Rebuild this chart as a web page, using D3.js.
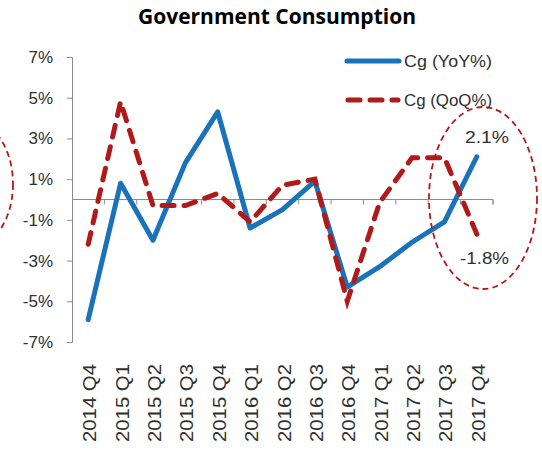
<!DOCTYPE html>
<html><head><meta charset="utf-8">
<script src="https://cdn.jsdelivr.net/npm/d3@7"></script>
<style>body{margin:0;background:#fff;} svg{display:block;}</style>
</head><body>
<script>
const categories = ["2014 Q4","2015 Q1","2015 Q2","2015 Q3","2015 Q4","2016 Q1","2016 Q2","2016 Q3","2016 Q4","2017 Q1","2017 Q2","2017 Q3","2017 Q4"];
const yoy = [-5.9, 0.8, -2.0, 1.8, 4.3, -1.4, -0.5, 0.9, -4.3, -3.3, -2.1, -1.1, 2.1];
const qoq = [-2.2, 4.8, -0.3, -0.3, 0.3, -1.1, 0.7, 1.0, -5.0, -0.15, 2.05, 2.05, -1.7];
const yTicks = [-7,-5,-3,-1,1,3,5,7];
const seriesNames = ["Cg (YoY%)", "Cg (QoQ%)"];
const annotations = ["2.1%", "-1.8%"];

const W = 542, H = 451;
const svg = d3.select("body").append("svg").attr("width", W).attr("height", H);
const x0 = 72, x1 = 493, yTop = 57, yBot = 342;
const x = d3.scaleBand().domain(categories).range([x0, x1]);
const y = d3.scaleLinear().domain([-7, 7]).range([yBot, yTop]);
const font = "'Liberation Sans', Arial, sans-serif";
const axisColor = "#8c8c8c";
const textColor = "#303030";
const blue = "#1A72BA", red = "#B01A1A";

svg.append("text").attr("x", 277).attr("y", 24).attr("text-anchor", "middle")
  .attr("font-family", "'Open Sans', sans-serif").attr("font-weight", "bold").attr("font-size", 21)
  .attr("fill", "#000").text("Government Consumption");

// y axis
const yAxis = svg.append("g").attr("transform", `translate(${x0},0)`)
  .call(d3.axisLeft(y).tickValues(yTicks).tickSize(5).tickFormat(d => d + "%"));
yAxis.select(".domain").attr("stroke", axisColor);
yAxis.selectAll(".tick line").attr("stroke", axisColor);
yAxis.selectAll(".tick text").attr("font-family", font).attr("font-size", 17).attr("fill", textColor).attr("x", -19);

// zero axis with category boundary ticks
const xAxis = svg.append("g").attr("transform", `translate(0,${y(0)})`);
xAxis.append("path").attr("d", `M${x0},0H${x1}V5`).attr("stroke", axisColor).attr("fill", "none");
const bounds = categories.map((c, i) => x(c) + x.bandwidth());
xAxis.selectAll("line.b").data(bounds).join("line").attr("class", "b")
  .attr("x1", d => d).attr("x2", d => d).attr("y1", 0).attr("y2", 5).attr("stroke", axisColor);

// x labels
svg.append("g").selectAll("text").data(categories).join("text")
  .attr("transform", d => `translate(${x(d) + x.bandwidth()/2 + 8},442) rotate(-90)`)
  .attr("font-family", font).attr("font-size", 18).attr("fill", textColor)
  .attr("textLength", 78).attr("lengthAdjust", "spacingAndGlyphs").text(d => d);

const cx = (d, i) => x(categories[i]) + x.bandwidth()/2;
const line = d3.line().x(cx).y(d => y(d));
svg.append("path").datum(yoy).attr("d", line).attr("fill", "none")
  .attr("stroke", blue).attr("stroke-width", 5).attr("stroke-linejoin", "round").attr("stroke-linecap", "round");
svg.append("path").datum(qoq).attr("d", line).attr("fill", "none")
  .attr("stroke", red).attr("stroke-width", 5).attr("stroke-dasharray", "12,10").attr("stroke-linecap", "round");

// legend
const lg = svg.append("g");
lg.append("line").attr("x1", 347).attr("x2", 399).attr("y1", 61).attr("y2", 61)
  .attr("stroke", blue).attr("stroke-width", 5).attr("stroke-linecap", "round");
lg.append("line").attr("x1", 348).attr("x2", 398).attr("y1", 100).attr("y2", 100)
  .attr("stroke", red).attr("stroke-width", 5).attr("stroke-dasharray", "12,10").attr("stroke-linecap", "round");
lg.selectAll("text").data(seriesNames).join("text")
  .attr("x", 404).attr("y", (d, i) => 67 + i * 39)
  .attr("font-family", font).attr("font-size", 17).attr("fill", textColor)
  .attr("textLength", 88).attr("lengthAdjust", "spacingAndGlyphs").text(d => d);

// annotations
svg.append("text").attr("x", 465).attr("y", 143)
  .attr("font-family", font).attr("font-size", 17).attr("fill", textColor)
  .attr("textLength", 44).attr("lengthAdjust", "spacingAndGlyphs").text(annotations[0]);
svg.append("text").attr("x", 460).attr("y", 264)
  .attr("font-family", font).attr("font-size", 17).attr("fill", textColor)
  .attr("textLength", 49).attr("lengthAdjust", "spacingAndGlyphs").text(annotations[1]);

svg.append("ellipse").attr("cx", 483).attr("cy", 198).attr("rx", 54).attr("ry", 91)
  .attr("fill", "none").attr("stroke", red).attr("stroke-width", 1.8).attr("stroke-dasharray", "6,4");
svg.append("ellipse").attr("cx", -27).attr("cy", 184).attr("rx", 40).attr("ry", 62)
  .attr("fill", "none").attr("stroke", red).attr("stroke-width", 1.8).attr("stroke-dasharray", "6,4");
</script>
</body></html>
